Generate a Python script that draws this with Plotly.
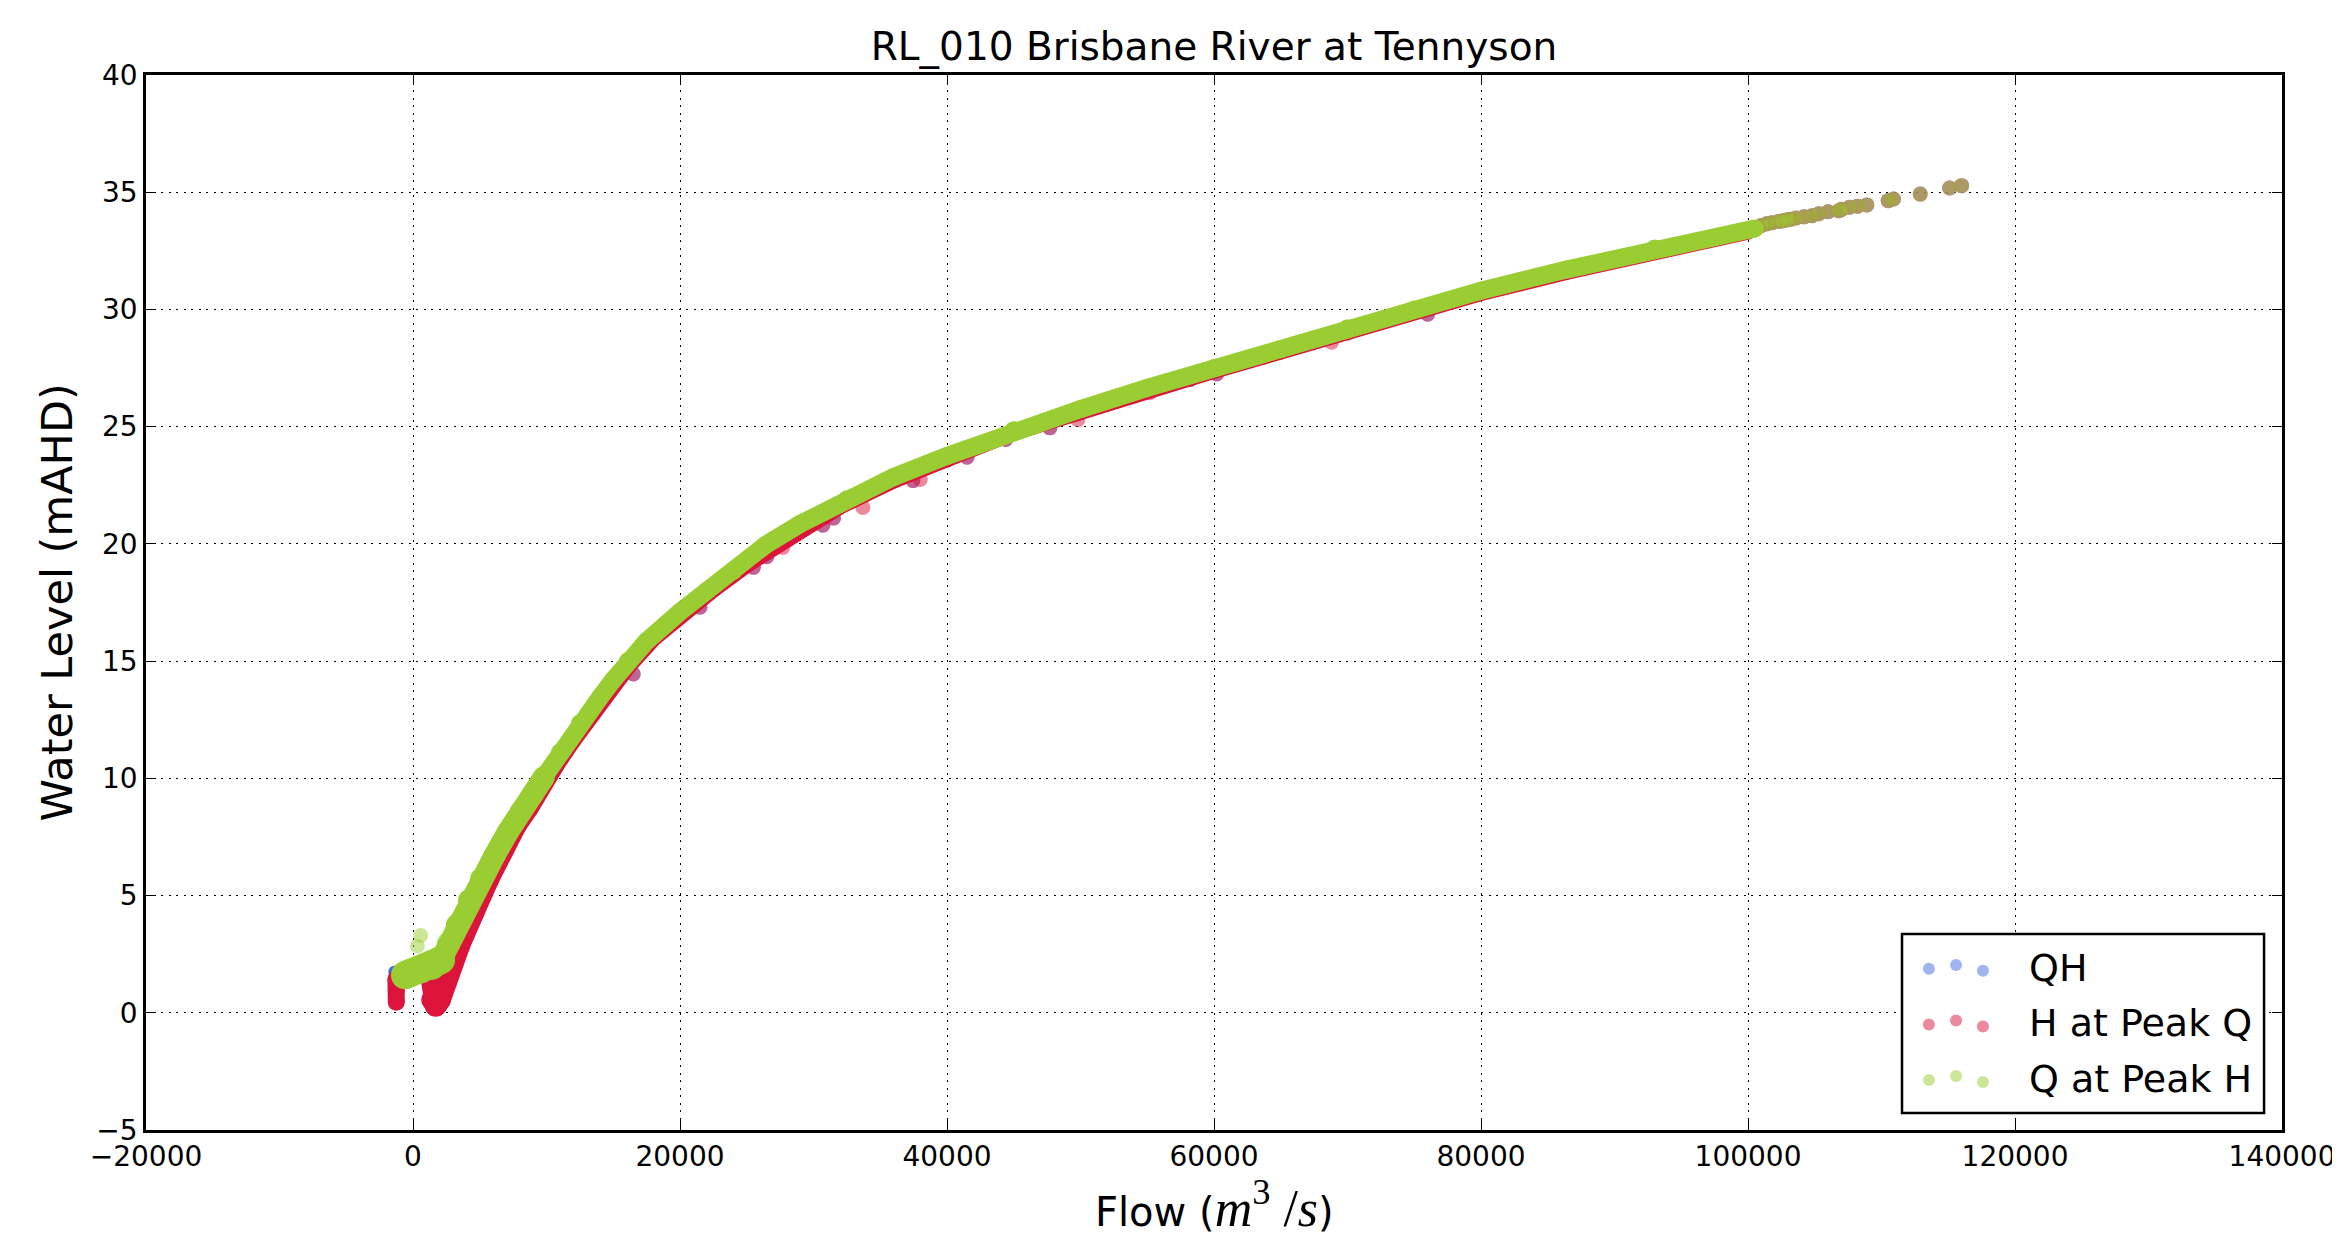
import plotly.graph_objects as go

# ---------------- data ----------------
# Flow (m3/s) and water level (mAHD) along the dense part of each series
qh_band_q = [-1400, -1000, -500, 300, 1200, 2100, 3000, 4000, 5000, 6000, 7000, 8000,
             9000, 10000, 11000, 12500, 14000, 16000, 18000, 20000, 22500, 25000, 28000,
             32000, 36000, 40000, 45000, 50000, 55000, 60000, 65000, 70000, 75000, 80000,
             86000, 93000, 100000]
qh_band_h = [1.75, 1.7, 1.65, 1.7, 1.85, 2.3, 3.1, 4.2, 5.3, 6.4, 7.4, 8.4,
             9.3, 10.1, 10.95, 12.2, 13.4, 14.85, 16.0, 17.0, 18.2, 19.2, 20.3,
             21.6, 22.7, 23.65, 24.8, 25.7, 26.6, 27.45, 28.25, 29.1, 29.9, 30.7,
             31.5, 32.5, 33.3]

peakq_left_q = [-1250, -1250, -1280]
peakq_left_h = [0.45, 0.95, 1.45]
peakq_low_q = [1450, 1450, 1700, 2000, 2400, 3440, 4500, 5620]
peakq_low_h = [1.3, 0.55, 0.3, 0.55, 1.44, 2.85, 4.25, 5.68]
peakq_band_q = [5860, 6900, 7900, 8800, 9800, 10800, 12000, 13300, 14600, 16100, 18000,
                20000, 22500, 25000, 28000, 32000, 36000, 40000, 45000, 50000, 55000,
                60000, 65000, 70000, 75000, 80000, 86400, 93000, 100000]
peakq_band_h = [5.68, 6.9, 7.95, 8.7, 9.75, 10.6, 11.6, 12.65, 13.65, 14.75, 15.95,
                16.95, 18.05, 19.1, 20.25, 21.6, 22.7, 23.6, 24.75, 25.62, 26.55,
                27.38, 28.2, 29.08, 29.9, 30.7, 31.6, 32.5, 33.32]

peakh_low_q = [-600, -200, 600, 1400, 2100]
peakh_low_h = [1.6, 1.7, 1.85, 2.0, 2.25]
peakh_rise_q = [2100, 2600, 3300, 4200, 5100, 6100, 7100, 8100, 9000, 9800]
peakh_rise_h = [2.25, 2.85, 3.75, 4.8, 5.7, 6.7, 7.7, 8.6, 9.35, 10.05]
peakh_main_q = [9800, 11000, 12500, 14000, 15000, 16100, 17500, 20000, 22000, 24000,
                26400, 29000, 32500, 36000, 40000, 45000, 50000, 55000, 60000, 65000,
                70000, 75000, 80000, 86400, 93000, 100500]
peakh_main_h = [10.05, 11.1, 12.35, 13.45, 14.2, 15.0, 15.85, 17.1, 18.0, 18.85,
                19.95, 20.85, 21.9, 22.85, 23.75, 24.85, 25.75, 26.65, 27.5, 28.3,
                29.2, 30.0, 30.8, 31.7, 32.6, 33.45]

# sparse high-flow events (present in all three series)
tail_q = [101000, 101400, 101800, 102300, 102600, 102900, 103200, 103600, 104200,
          104800, 105300, 106000, 106800, 107000, 107600, 108200, 108900,
          110500, 110900, 112900, 115100, 116000]
tail_h = [33.58, 33.65, 33.7, 33.75, 33.78, 33.82, 33.85, 33.9, 33.95,
          34.0, 34.08, 34.17, 34.21, 34.27, 34.36, 34.4, 34.46,
          34.64, 34.71, 34.92, 35.18, 35.28]

# scattered points below the curve shared by QH and H at Peak Q
shared_q = [16500, 21500, 25500, 26500, 30700, 31500, 37450, 41500, 44400, 47700,
            58200, 60200, 70000, 76000]
shared_h = [14.45, 17.3, 19.0, 19.45, 20.8, 21.1, 22.7, 23.7, 24.45, 24.95,
            27.0, 27.25, 29.0, 29.8]

# scattered points only in H at Peak Q
peakq_extra_q = [27700, 33700, 38000, 49800, 55200, 68800]
peakq_extra_h = [19.85, 21.55, 22.75, 25.3, 26.45, 28.6]

# scattered points only in Q at Peak H
peakh_extra_q = [325, 575, 2350, 3000, 4000]
peakh_extra_h = [2.85, 3.3, 3.05, 3.7, 4.6]

series_names = ["QH", "H at Peak Q", "Q at Peak H"]
series_colors = ["#4169E1", "#DC143C", "#9ACD32"]

x_ticks = [-20000, 0, 20000, 40000, 60000, 80000, 100000, 120000, 140000]
x_tick_labels = ["\u221220000", "0", "20000", "40000", "60000", "80000",
                 "100000", "120000", "140000"]
y_ticks = [-5, 0, 5, 10, 15, 20, 25, 30, 35, 40]
y_tick_labels = ["\u22125", "0", "5", "10", "15", "20", "25", "30", "35", "40"]

# ---------------- figure ----------------
FONT = "DejaVu Sans"
fig = go.Figure()


def band(q, h, color, width):
    fig.add_trace(go.Scatter(
        x=q, y=h, mode="lines+markers",
        line=dict(color=color, width=width),
        marker=dict(color=color, size=width, line=dict(width=0)),
        hoverinfo="skip", showlegend=False))


def points(q, h, color, size=15):
    fig.add_trace(go.Scatter(
        x=q, y=h, mode="markers",
        marker=dict(color=color, size=size, opacity=0.5, line=dict(width=0)),
        hoverinfo="skip", showlegend=False))


c_qh, c_pq, c_ph = series_colors

# QH
band(qh_band_q, qh_band_h, c_qh, 12)
points(tail_q + shared_q, tail_h + shared_h, c_qh)
# H at Peak Q
band(peakq_left_q, peakq_left_h, c_pq, 17)
band(peakq_low_q, peakq_low_h, c_pq, 22)
band(peakq_band_q, peakq_band_h, c_pq, 16)
points(tail_q + shared_q + peakq_extra_q, tail_h + shared_h + peakq_extra_h, c_pq)
# Q at Peak H
band(peakh_low_q, peakh_low_h, c_ph, 28)
band(peakh_rise_q, peakh_rise_h, c_ph, 22)
band(peakh_main_q, peakh_main_h, c_ph, 18)
points(tail_q + peakh_extra_q, tail_h + peakh_extra_h, c_ph)

axis_common = dict(
    showline=True, linecolor="black", linewidth=2.5, mirror="ticks",
    ticks="inside", ticklen=10, tickwidth=1.3, tickcolor="black",
    showgrid=True, gridcolor="black", gridwidth=1.3, griddash="2px,5.5px",
    zeroline=False, tickfont=dict(family=FONT, size=28, color="black"),
    ticklabeloverflow="allow", automargin=False,
)

fig.update_xaxes(range=[-20000, 140000], tickmode="array", tickvals=x_ticks,
                 ticktext=x_tick_labels, ticklabelstandoff=0, **axis_common)
fig.update_yaxes(range=[-5, 40], tickmode="array", tickvals=y_ticks,
                 ticktext=y_tick_labels, ticklabelstandoff=0, **axis_common)

# legend (matplotlib style: three scatter dots per entry)
L_X0, L_X1, L_Y0, L_Y1 = 0.8221, 0.9916, 0.0161, 0.1858
shapes = [dict(type="rect", xref="paper", yref="paper", x0=L_X0, x1=L_X1, y0=L_Y0, y1=L_Y1,
               line=dict(color="black", width=2.5), fillcolor="white", layer="above")]
dot_x = [0.8347, 0.8474, 0.8600]
row_y = [0.1540, 0.1012, 0.0486]
dot_dy = [-0.0012, 0.0025, -0.0030]
annotations = []
for name, color, ry in zip(series_names, series_colors, row_y):
    for dx, dy in zip(dot_x, dot_dy):
        shapes.append(dict(type="circle", xref="paper", yref="paper",
                           xsizemode="pixel", ysizemode="pixel",
                           xanchor=dx, yanchor=ry + dy, x0=-6, x1=6, y0=-6, y1=6,
                           fillcolor=color, opacity=0.5, line=dict(width=0),
                           layer="above"))
    annotations.append(dict(text=name, xref="paper", yref="paper", x=0.8806, y=ry,
                            xanchor="left", yanchor="middle", showarrow=False,
                            font=dict(family=FONT, size=38, color="black")))

# axis titles
annotations.append(dict(
    text="Flow (<span style=\"font-family:'Liberation Serif';font-size:52px\"><i>m</i><sup>3</sup>&nbsp;/<i>s</i></span>)",
    xref="paper", yref="paper", x=0.5, y=-0.0708, xanchor="center", yanchor="middle",
    showarrow=False, font=dict(family=FONT, size=40, color="black")))
annotations.append(dict(
    text="Water Level (mAHD)", xref="paper", yref="paper", x=-0.0417, y=0.5,
    xanchor="center", yanchor="middle", textangle=-90, showarrow=False,
    font=dict(family=FONT, size=43, color="black")))

# the page body has an 8px margin on every side; size the figure so it fits exactly
fig.update_layout(
    width=2324, height=1229,
    margin=dict(l=138, r=50, t=67, b=107, autoexpand=False),
    paper_bgcolor="white", plot_bgcolor="white",
    showlegend=False,
    title=dict(text="RL_010 Brisbane River at Tennyson", x=0.5, xref="paper",
               xanchor="center", y=1, yref="paper", yanchor="bottom",
               pad=dict(b=15), font=dict(family=FONT, size=39, color="black")),
    shapes=shapes, annotations=annotations,
)

fig.write_html("out.html")
